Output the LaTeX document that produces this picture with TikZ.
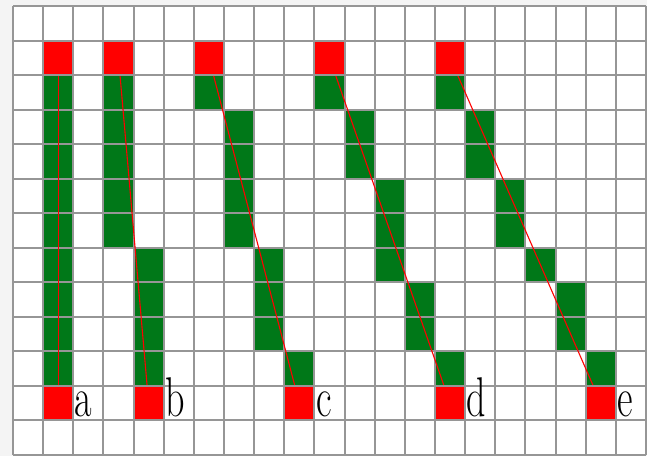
\documentclass[tikz,border=0pt]{standalone}
\usepackage{graphicx}
\definecolor{cellgreen}{RGB}{0,120,24}
\definecolor{cellred}{RGB}{255,0,0}
\definecolor{gridgray}{RGB}{150,150,150}
\definecolor{bggray}{RGB}{244,244,244}
\tikzset{
  redcell/.style={draw=none, fill=cellred, minimum width=30.1429pt, minimum height=34.5385pt, inner sep=0pt, outer sep=0pt},
  redline/.style={draw=cellred, line width=1.1pt},
  gridline/.style={draw=gridgray, line width=2pt},
  lab/.style={font=\fontsize{56}{56}\selectfont, inner sep=0pt, anchor=base west}
}
\begin{document}
\begin{tikzpicture}[x=1pt,y=1pt]
\fill[bggray] (0,0) rectangle (647,-456);
\useasboundingbox (0,0) rectangle (647,-456);
\begin{scope}[shift={(13pt,-6pt)}, x=30.1429pt, y=-34.5385pt]
  \fill[white] (0,0) rectangle (21,13);
  % green cells: column / first row / last row
  \foreach \c/\a/\b in {1/2/10, 3/2/6, 4/7/10, 6/2/2, 7/3/6, 8/7/9, 9/10/10,
                        10/2/2, 11/3/4, 12/5/7, 13/8/9, 14/10/10,
                        14/2/2, 15/3/4, 16/5/6, 17/7/7, 18/8/9, 19/10/10}
    \fill[cellgreen] (\c,\a) rectangle (\c+1,\b+1);
  % grid
  \foreach \i in {0,...,21} \draw[gridline] (\i,0) -- (\i,13);
  \foreach \j in {0,...,13} \draw[gridline] (0,\j) -- (21,\j);
  % end cells
  \node[redcell] (a1) at (1.5,1.5) {};
  \node[redcell] (a2) at (1.5,11.5) {};
  \node[redcell] (b1) at (3.5,1.5) {};
  \node[redcell] (b2) at (4.5,11.5) {};
  \node[redcell] (c1) at (6.5,1.5) {};
  \node[redcell] (c2) at (9.5,11.5) {};
  \node[redcell] (d1) at (10.5,1.5) {};
  \node[redcell] (d2) at (14.5,11.5) {};
  \node[redcell] (e1) at (14.5,1.5) {};
  \node[redcell] (e2) at (19.5,11.5) {};
  % ideal lines
  \draw[redline] (a1) -- (a2);
  \draw[redline] (b1) -- (b2);
  \draw[redline] (c1) -- (c2);
  \draw[redline] (d1) -- (d2);
  \draw[redline] (e1) -- (e2);
  % grid edges around the end cells
  \foreach \c/\r in {1/1, 1/11, 3/1, 4/11, 6/1, 9/11, 10/1, 14/11, 14/1, 19/11}
    \draw[gridline] (\c,\r) rectangle (\c+1,\r+1);
  % labels
  \node[lab] (la) at ([xshift=1.5pt,yshift=4pt]a2.south east) {\scalebox{0.68}[1]{a}};
  \node[lab] (lb) at ([xshift=1.5pt,yshift=4pt]b2.south east) {\scalebox{0.68}[1]{b}};
  \node[lab] (lc) at ([xshift=1.5pt,yshift=4pt]c2.south east) {\scalebox{0.68}[1]{c}};
  \node[lab] (ld) at ([xshift=1.5pt,yshift=4pt]d2.south east) {\scalebox{0.68}[1]{d}};
  \node[lab] (le) at ([xshift=1.5pt,yshift=4pt]e2.south east) {\scalebox{0.68}[1]{e}};
\end{scope}
\end{tikzpicture}
\end{document}
